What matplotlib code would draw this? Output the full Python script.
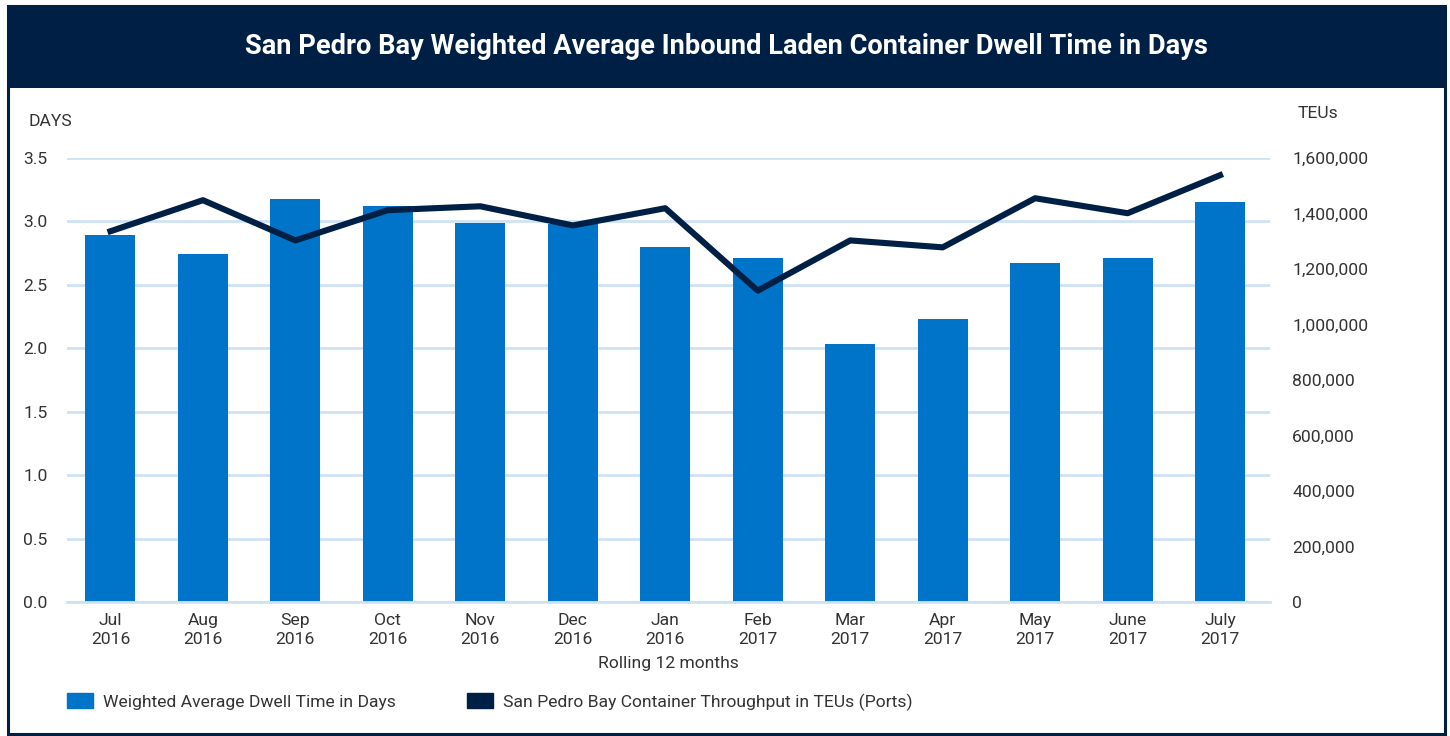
import matplotlib
matplotlib.use("Agg")
import matplotlib.pyplot as plt
from matplotlib.patches import Rectangle
from matplotlib.ticker import FuncFormatter

plt.rcParams['font.family'] = ['Roboto', 'DejaVu Sans']

# data
months = ['Jul\n2016', 'Aug\n2016', 'Sep\n2016', 'Oct\n2016', 'Nov\n2016', 'Dec\n2016', 'Jan\n2016',
          'Feb\n2017', 'Mar\n2017', 'Apr\n2017', 'May\n2017', 'June\n2017', 'July\n2017']
dwell_days = [2.89, 2.74, 3.18, 3.12, 2.99, 2.98, 2.80, 2.71, 2.03, 2.23, 2.67, 2.71, 3.15]
teus = [1336000, 1448000, 1303000, 1412000, 1426000, 1357000, 1419000,
        1122000, 1303000, 1278000, 1455000, 1401000, 1538000]

bar_color = '#0074c8'
navy = '#001f45'
grid_color = '#cfe2f4'
text_color = '#333333'
fs = 12.6

fig = plt.figure(figsize=(14.5, 7.36), dpi=100)

# header band and outer frame
fig.patches.append(Rectangle((8 / 1450, 1 - 88 / 736), 1437 / 1450, 82 / 736,
                             transform=fig.transFigure, facecolor=navy, edgecolor='none', zorder=0))
fig.patches.append(Rectangle((8 / 1450, 1 - 734 / 736), 1437 / 1450, 728 / 736,
                             transform=fig.transFigure, facecolor='none', edgecolor=navy, lw=2.2, zorder=0))
fig.text(726 / 1450, 1 - 46 / 736, 'San Pedro Bay Weighted Average Inbound Laden Container Dwell Time in Days',
         color='white', fontsize=19.6, fontweight='bold', ha='center', va='center')

ax = fig.add_axes([67 / 1450, 134 / 736, 1203 / 1450, 444 / 736])
x = list(range(len(months)))
ax.bar(x, dwell_days, width=0.54, color=bar_color, zorder=2,
       label='Weighted Average Dwell Time in Days')
ax.set_ylim(0, 3.5)
ax.set_xlim(-0.47, 12.54)
ax.set_yticks([0, 0.5, 1.0, 1.5, 2.0, 2.5, 3.0, 3.5])
ax.yaxis.set_major_formatter(FuncFormatter(lambda v, p: f'{v:.1f}'))
ax.set_xticks(x)
ax.set_xticklabels(months, linespacing=1.3)
ax.grid(axis='y', color=grid_color, lw=2.0, zorder=0)
for s in ['top', 'right', 'left']:
    ax.spines[s].set_visible(False)
ax.spines['bottom'].set_color(grid_color)
ax.spines['bottom'].set_linewidth(2.0)
ax.tick_params(axis='both', length=0, labelsize=fs, colors=text_color)
ax.tick_params(axis='y', pad=14)
ax.tick_params(axis='x', pad=8)
ax.set_xlabel('Rolling 12 months', fontsize=fs, color=text_color, labelpad=7)

ax2 = ax.twinx()
ax2.plot(x, teus, color=navy, lw=4.4, zorder=3,
         label='San Pedro Bay Container Throughput in TEUs (Ports)')
ax2.set_ylim(0, 1600000)
ax2.set_yticks(range(0, 1600001, 200000))
ax2.yaxis.set_major_formatter(FuncFormatter(lambda v, p: f'{int(v):,}'))
for s in ax2.spines.values():
    s.set_visible(False)
ax2.tick_params(axis='y', length=0, labelsize=fs, colors=text_color, pad=16)

fig.text(28 / 1450, 1 - 121 / 736, 'DAYS', fontsize=fs, color=text_color, va='center', ha='left')
fig.text(1298 / 1450, 1 - 114 / 736, 'TEUs', fontsize=fs, color=text_color, va='center', ha='left')

handles = [Rectangle((0, 0), 1, 1, color=bar_color), Rectangle((0, 0), 1, 1, color=navy)]
labels = ['Weighted Average Dwell Time in Days', 'San Pedro Bay Container Throughput in TEUs (Ports)']
fig.legend(handles, labels, loc='center left', bbox_to_anchor=(51 / 1450, 1 - 702 / 736), ncol=2,
           frameon=False, fontsize=fs, handlelength=1.48, handleheight=0.9, handletextpad=0.57,
           columnspacing=4.1, labelcolor=text_color)

fig.savefig('out.png', dpi=100)
